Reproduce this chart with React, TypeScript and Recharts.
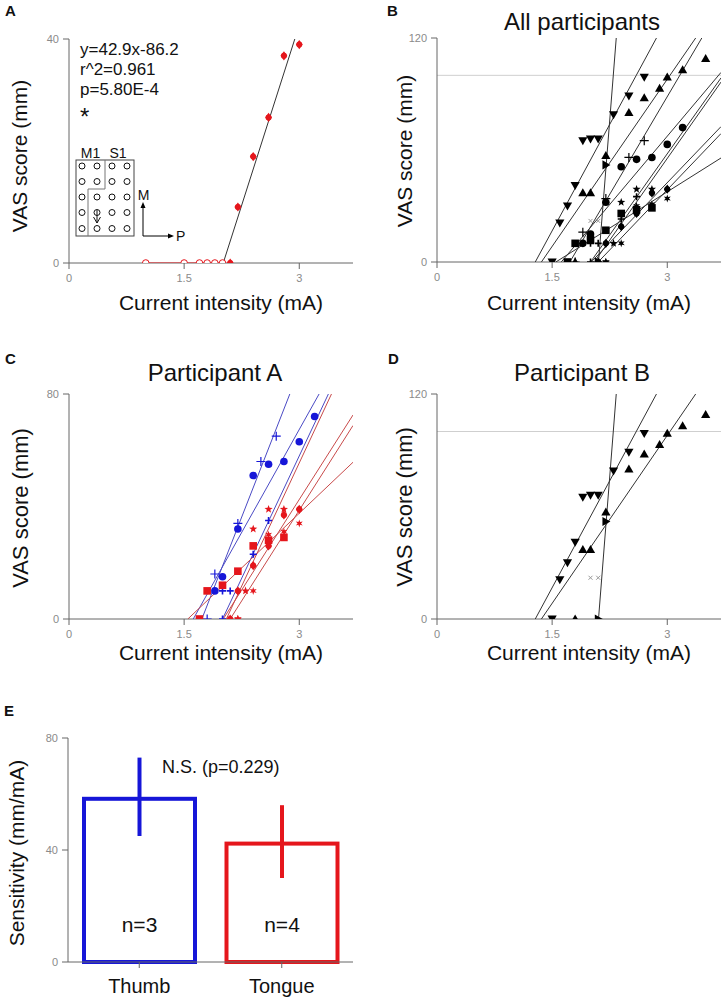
import React from 'react';
import { ScatterChart, Scatter, XAxis, YAxis, ReferenceLine, BarChart, Bar } from 'recharts';

const FONT = "'Liberation Sans', Arial, sans-serif";

// ---------- shared axis ----------
const xTicks = [0, 1.5, 3];
const X_MAX = 3.7;

// ---------- Panel A : participant A, one tongue session ----------
const aSubX = [1.0, 1.5, 1.7, 1.8, 1.9, 2.0];
const aSubY = [0, 0, 0, 0, 0, 0];
const aSupraX = [2.1, 2.2, 2.4, 2.6, 2.8, 3.0];
const aSupraY = [0, 10, 19, 26, 37, 39];
const aFitSlope = 42.9;
const aFitIntercept = -86.2;
const aFitText = ['y=42.9x-86.2', 'r^2=0.961', 'p=5.80E-4'];
const aYTicks = [0, 40];

// ---------- Participant A, thumb sessions ----------
const thumb1X = [1.8, 1.9, 2.2, 2.5, 2.7];
const thumb1Y = [0, 16, 34, 56, 65];
const thumb2X = [1.9, 2.0, 2.2, 2.4, 2.6, 2.8, 3.0, 3.2];
const thumb2Y = [10, 15, 32, 51, 55, 56, 63, 72];
const thumb3X = [2.0, 2.0, 2.1, 2.4, 2.6];
const thumb3Y = [0, 10, 10, 23, 35];
const thumbSlopes = [69.8, 48.8, 58.0];
const thumbIntercepts = [-120.8, -79.0, -116.0];

// ---------- Participant A, tongue sessions ----------
const tongue1X = [1.7, 1.8, 2.0, 2.2, 2.4, 2.6, 2.8];
const tongue1Y = [0, 10, 12, 17, 26, 28, 29];
const tongue3X = [2.2, 2.3, 2.4, 2.6, 2.8];
const tongue3Y = [0, 10, 32, 39, 39];
const tongue4X = [2.2, 2.4, 2.6, 2.8, 3.0];
const tongue4Y = [0, 10, 30, 31, 34];
const tongueSlopes = [25.9, 42.9, 58.4, 43.0];
const tongueIntercepts = [-40.1, -86.2, -119.7, -90.3];
const cYTicks = [0, 80];

// ---------- Participant B ----------
const pbDownX = [1.5, 1.6, 1.7, 1.8, 1.9, 2.0, 2.1, 2.3, 2.5, 2.7];
const pbDownY = [0, 21, 30, 41, 65, 66, 66, 79, 89, 99];
const pbUpX = [1.8, 1.9, 2.0, 2.2, 2.5, 2.7, 2.9, 3.0, 3.2, 3.5];
const pbUpY = [0, 37, 37, 57, 80, 88, 93, 99, 103, 109];
const pbRightX = [2.1, 2.2];
const pbRightY = [0, 52];
const pbCrossX = [2.0, 2.1];
const pbCrossY = [22, 22];
const pbSlopes = [76.0, 59.7, 519];
const pbIntercepts = [-97.3, -81.2, -1092];
const bYTicks = [0, 120];
const ceilingVAS = 100;

// ---------- Panel E ----------
const sensSites = ['Thumb', 'Tongue'];
const sensMean = [59, 43];
const sensErr = [14, 13];
const sensN = [3, 4];
const sensYTicks = [0, 40, 80];

const BLUE = '#1616d8';
const RED = '#e5161c';
const BLUE_LINE = '#4a4ac4';
const RED_LINE = '#c84a4a';
const DARK = '#333';

type Pt = { x: number; y: number };
const zip = (xs: number[], ys: number[]): Pt[] => xs.map((x, i) => ({ x, y: ys[i] }));

function fitSegment(slope: number, intercept: number, xMax: number, yMax: number): Pt[] {
  const x0 = -intercept / slope;
  let x1 = (yMax - intercept) / slope;
  let y1 = yMax;
  if (x1 > xMax) {
    x1 = xMax;
    y1 = slope * xMax + intercept;
  }
  return [{ x: x0, y: 0 }, { x: x1, y: y1 }];
}

function starPoints(cx: number, cy: number, n: number, ro: number, ri: number) {
  const pts: string[] = [];
  for (let i = 0; i < 2 * n; i++) {
    const r = i % 2 === 0 ? ro : ri;
    const a = -Math.PI / 2 + (i * Math.PI) / n;
    pts.push(`${cx + r * Math.cos(a)},${cy + r * Math.sin(a)}`);
  }
  return pts.join(' ');
}

function Marker({ kind, cx, cy, color }: { kind: string; cx: number; cy: number; color: string }) {
  if (cx == null || cy == null) return <g />;
  switch (kind) {
    case 'circle':
      return <circle cx={cx} cy={cy} r={3.8} fill={color} />;
    case 'hollow':
      return <circle cx={cx} cy={cy} r={3.3} fill="#fff" stroke={color} strokeWidth={1} />;
    case 'square':
      return <rect x={cx - 3.8} y={cy - 3.8} width={7.6} height={7.6} fill={color} />;
    case 'up':
      return <polygon points={`${cx},${cy - 4.6} ${cx + 4.6},${cy + 3.4} ${cx - 4.6},${cy + 3.4}`} fill={color} />;
    case 'down':
      return <polygon points={`${cx - 4.6},${cy - 3.4} ${cx + 4.6},${cy - 3.4} ${cx},${cy + 4.6}`} fill={color} />;
    case 'right':
      return <polygon points={`${cx - 3.4},${cy - 4.6} ${cx + 4.6},${cy} ${cx - 3.4},${cy + 4.6}`} fill={color} />;
    case 'plus':
      return <path d={`M${cx - 4.5},${cy}H${cx + 4.5}M${cx},${cy - 4.5}V${cy + 4.5}`} stroke={color} strokeWidth={1.2} fill="none" />;
    case 'plusSmall':
      return <path d={`M${cx - 3.5},${cy}H${cx + 3.5}M${cx},${cy - 3.5}V${cy + 3.5}`} stroke={color} strokeWidth={1.6} fill="none" />;
    case 'x':
      return <path d={`M${cx - 2},${cy - 2}L${cx + 2},${cy + 2}M${cx + 2},${cy - 2}L${cx - 2},${cy + 2}`} stroke="#999" strokeWidth={1} fill="none" />;
    case 'star':
      return <polygon points={starPoints(cx, cy, 5, 4.3, 1.8)} fill={color} />;
    case 'asterisk':
      return <polygon points={starPoints(cx, cy, 6, 4, 1.7)} fill={color} />;
    case 'diamond':
      return (
        <g>
          <circle cx={cx} cy={cy} r={3} fill={color} />
          <polygon points={`${cx},${cy - 4.6} ${cx + 3.4},${cy} ${cx},${cy + 4.6} ${cx - 3.4},${cy}`} fill={color} />
        </g>
      );
    default:
      return <circle cx={cx} cy={cy} r={3} fill={color} />;
  }
}

type SeriesDef = { xs: number[]; ys: number[]; kind: string; color: string; connect?: string };
type FitDef = { slope: number; intercept: number; color: string };

function ScatterPanel({ left, top, w, h, yMax, yTicks, series, fits, refY }: {
  left: number; top: number; w: number; h: number; yMax: number; yTicks: number[];
  series: SeriesDef[]; fits: FitDef[]; refY?: number;
}) {
  const W = w + 45;
  const H = h + 40;
  const tickStyle = { fontSize: 11, fill: '#8a8a8a', fontFamily: FONT };
  return (
    <div style={{ position: 'absolute', left: left - 40, top: top - 10, width: W, height: H }}>
      <ScatterChart width={W} height={H} margin={{ top: 10, right: 5, left: 10, bottom: 0 }}>
        <XAxis type="number" dataKey="x" domain={[0, X_MAX]} ticks={xTicks} interval={0} allowDataOverflow
          height={30} stroke="#666" tickSize={6} tickMargin={5} tick={tickStyle} />
        <YAxis type="number" dataKey="y" domain={[0, yMax]} ticks={yTicks} interval={0} allowDataOverflow
          width={30} stroke="#666" tickSize={6} tickMargin={4} tick={tickStyle} />
        {refY !== undefined && <ReferenceLine y={refY} stroke="#cfcfcf" strokeWidth={1} />}
        {fits.map((f, i) => (
          <Scatter key={'f' + i} data={fitSegment(f.slope, f.intercept, X_MAX, yMax)} fill={f.color} stroke={f.color}
            line={{ stroke: f.color, strokeWidth: 1 }} shape={() => <g />} isAnimationActive={false} />
        ))}
        {series.map((s, i) => (
          <Scatter key={'s' + i} data={zip(s.xs, s.ys)} fill={s.color}
            line={s.connect ? { stroke: s.connect, strokeWidth: 1 } : false}
            shape={(p: any) => <Marker kind={s.kind} cx={p.cx} cy={p.cy} color={s.color} />}
            isAnimationActive={false} />
        ))}
      </ScatterChart>
    </div>
  );
}

const thumbDefs = [
  { xs: thumb1X, ys: thumb1Y, kind: 'plus' },
  { xs: thumb2X, ys: thumb2Y, kind: 'circle' },
  { xs: thumb3X, ys: thumb3Y, kind: 'plusSmall' },
];
const tongueDefs = [
  { xs: tongue1X, ys: tongue1Y, kind: 'square' },
  { xs: aSupraX, ys: aSupraY, kind: 'diamond' },
  { xs: tongue3X, ys: tongue3Y, kind: 'star' },
  { xs: tongue4X, ys: tongue4Y, kind: 'asterisk' },
];
const pbDefs = [
  { xs: pbDownX, ys: pbDownY, kind: 'down' },
  { xs: pbUpX, ys: pbUpY, kind: 'up' },
  { xs: pbRightX, ys: pbRightY, kind: 'right' },
  { xs: pbCrossX, ys: pbCrossY, kind: 'x' },
];

const thumbFits = thumbSlopes.map((s, i) => ({ slope: s, intercept: thumbIntercepts[i] }));
const tongueFits = tongueSlopes.map((s, i) => ({ slope: s, intercept: tongueIntercepts[i] }));
const pbFits = pbSlopes.map((s, i) => ({ slope: s, intercept: pbIntercepts[i] }));

const SensBar = (props: any) => {
  const { x, y, width, height, payload } = props;
  if (x == null || !height) return <g />;
  const c = payload.color;
  const errPx = (payload.err * height) / payload.mean;
  const cx = x + width / 2;
  return (
    <g>
      <rect x={x + 2} y={y + 2} width={width - 4} height={height - 2} fill="#fff" stroke={c} strokeWidth={4} />
      <line x1={cx} y1={y - errPx} x2={cx} y2={y + errPx} stroke={c} strokeWidth={4} />
      <text x={cx} y={y + height - 30} textAnchor="middle" fontSize={21} fontFamily={FONT} fill="#111">{`n=${payload.n}`}</text>
    </g>
  );
};

const sensData = sensSites.map((site, i) => ({
  site, mean: sensMean[i], err: sensErr[i], n: sensN[i], color: i === 0 ? BLUE : RED,
}));

export default function App() {
  const T = (p: any) => <text fontFamily={FONT} fill="#111" {...p} />;
  const insetCols = [82, 97, 112, 127];
  const insetRows = [166, 181.5, 197, 212.5, 228.5];
  return (
    <div style={{ position: 'absolute', left: 0, top: 0, width: 726, height: 999, background: '#fff', overflow: 'hidden' }}>
      {/* A */}
      <ScatterPanel left={69} top={39} w={284} h={224} yMax={40} yTicks={aYTicks}
        fits={[{ slope: aFitSlope, intercept: aFitIntercept, color: DARK }]}
        series={[
          { xs: aSubX, ys: aSubY, kind: 'hollow', color: RED, connect: RED },
          { xs: aSupraX, ys: aSupraY, kind: 'diamond', color: RED },
        ]} />
      {/* B */}
      <ScatterPanel left={437} top={38} w={284} h={224} yMax={120} yTicks={bYTicks} refY={ceilingVAS}
        fits={[...thumbFits, ...tongueFits, ...pbFits].map(f => ({ ...f, color: DARK }))}
        series={[...thumbDefs, ...tongueDefs, ...pbDefs].map(d => ({ ...d, color: '#000' }))} />
      {/* C */}
      <ScatterPanel left={69} top={394} w={284} h={225} yMax={80} yTicks={cYTicks}
        fits={[...thumbFits.map(f => ({ ...f, color: BLUE_LINE })), ...tongueFits.map(f => ({ ...f, color: RED_LINE }))]}
        series={[...thumbDefs.map(d => ({ ...d, color: BLUE })), ...tongueDefs.map(d => ({ ...d, color: RED }))]} />
      {/* D */}
      <ScatterPanel left={437} top={394} w={284} h={225} yMax={120} yTicks={bYTicks} refY={ceilingVAS}
        fits={pbFits.map(f => ({ ...f, color: DARK }))}
        series={pbDefs.map(d => ({ ...d, color: '#000' }))} />
      {/* E */}
      <div style={{ position: 'absolute', left: 28, top: 728 }}>
        <BarChart width={330} height={274} data={sensData} margin={{ top: 10, right: 5, left: 10, bottom: 0 }}>
          <XAxis dataKey="site" height={40} stroke="#666" tickSize={6} tickMargin={11} interval={0}
            tick={{ fontSize: 20, fill: '#111', fontFamily: FONT }} />
          <YAxis type="number" domain={[0, 80]} ticks={sensYTicks} interval={0} width={30} stroke="#666" tickSize={6} tickMargin={4}
            tick={{ fontSize: 11, fill: '#8a8a8a', fontFamily: FONT }} />
          <Bar dataKey="mean" barSize={115} shape={SensBar} isAnimationActive={false} />
        </BarChart>
      </div>

      <svg width={726} height={999} style={{ position: 'absolute', left: 0, top: 0, pointerEvents: 'none' }}>
        {/* panel letters */}
        <T x={5} y={16} fontSize={15} fontWeight="bold">A</T>
        <T x={387} y={16} fontSize={15} fontWeight="bold">B</T>
        <T x={5} y={364} fontSize={15} fontWeight="bold">C</T>
        <T x={388} y={364} fontSize={15} fontWeight="bold">D</T>
        <T x={4} y={716} fontSize={15} fontWeight="bold">E</T>
        {/* titles */}
        <T x={582} y={30} fontSize={24} textAnchor="middle">All participants</T>
        <T x={215} y={381} fontSize={24} textAnchor="middle">Participant A</T>
        <T x={582} y={381} fontSize={24} textAnchor="middle">Participant B</T>
        {/* y titles */}
        <T x={27} y={156} fontSize={21} textAnchor="middle" transform="rotate(-90 27 156)">VAS score (mm)</T>
        <T x={412} y={151} fontSize={21} textAnchor="middle" transform="rotate(-90 412 151)">VAS score (mm)</T>
        <T x={28} y={508} fontSize={22} textAnchor="middle" transform="rotate(-90 28 508)">VAS score (mm)</T>
        <T x={412} y={507} fontSize={22} textAnchor="middle" transform="rotate(-90 412 507)">VAS score (mm)</T>
        <T x={24} y={853} fontSize={21} textAnchor="middle" transform="rotate(-90 24 853)">Sensitivity (mm/mA)</T>
        {/* x titles */}
        <T x={221} y={310} fontSize={21} textAnchor="middle">Current intensity (mA)</T>
        <T x={589} y={310} fontSize={21} textAnchor="middle">Current intensity (mA)</T>
        <T x={221} y={660} fontSize={21} textAnchor="middle">Current intensity (mA)</T>
        <T x={589} y={660} fontSize={21} textAnchor="middle">Current intensity (mA)</T>
        {/* panel A fit text */}
        <T x={80} y={55} fontSize={17}>{aFitText[0]}</T>
        <T x={80} y={75} fontSize={17}>{aFitText[1]}</T>
        <T x={80} y={95} fontSize={17}>{aFitText[2]}</T>
        <T x={80} y={125} fontSize={24}>*</T>
        {/* panel E annotation */}
        <T x={162} y={773} fontSize={18}>N.S. (p=0.229)</T>
        {/* inset electrode map */}
        <rect x={76} y={160} width={58} height={76} fill="none" stroke="#444" strokeWidth={1} />
        <path d="M105,160 V189 H88 V236" fill="none" stroke="#777" strokeWidth={1} />
        {insetCols.map(cx => insetRows.map(cy => (
          <circle key={cx + '-' + cy} cx={cx} cy={cy} r={3} fill="none" stroke="#111" strokeWidth={1} />
        )))}
        <path d="M97,210 V223 M93.5,217 L97,223 L100.5,217" stroke="#111" strokeWidth={1} fill="none" />
        <line x1={143} y1={236} x2={143} y2={207} stroke="#000" strokeWidth={1} />
        <polygon points="143,202 140.5,208 145.5,208" fill="#000" />
        <line x1={143} y1={236} x2={169} y2={236} stroke="#000" strokeWidth={1} />
        <polygon points="174,236 168,233.5 168,238.5" fill="#000" />
        <T x={90.5} y={158} fontSize={14} textAnchor="middle">M1</T>
        <T x={118} y={158} fontSize={14} textAnchor="middle">S1</T>
        <T x={143.5} y={200} fontSize={14} textAnchor="middle">M</T>
        <T x={176} y={241} fontSize={14}>P</T>
      </svg>
    </div>
  );
}
